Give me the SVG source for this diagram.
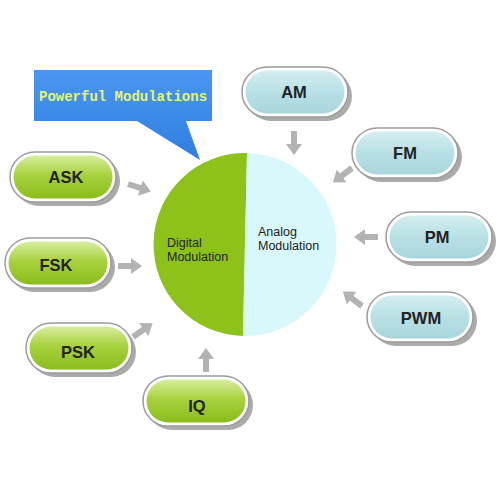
<svg xmlns="http://www.w3.org/2000/svg" width="500" height="500" viewBox="0 0 500 500">
<defs>
<linearGradient id="gg" x1="0" y1="0" x2="0" y2="1">
<stop offset="0" stop-color="#d9eea0"/><stop offset="0.45" stop-color="#a8d23e"/><stop offset="1" stop-color="#8abd1c"/>
</linearGradient>
<linearGradient id="bg" x1="0" y1="0" x2="0" y2="1">
<stop offset="0" stop-color="#d4eef1"/><stop offset="0.5" stop-color="#b8e0e5"/><stop offset="1" stop-color="#a9d6dc"/>
</linearGradient>
<linearGradient id="cg" x1="0" y1="0" x2="0" y2="1">
<stop offset="0" stop-color="#4a97f0"/><stop offset="1" stop-color="#2f7fe0"/>
</linearGradient>
<path id="arr" d="M0,-3 L13,-3 L13,-8 L24,0 L13,8 L13,3 L0,3 Z"/>
</defs>
<style>
.sh{fill:#8f8f8f;opacity:0.75}
.rim{fill:#ffffff;stroke:#9c9c9c;stroke-width:1.5}
.lbl{font-family:"Liberation Sans",Arial,sans-serif;font-weight:bold;font-size:16.5px;fill:#222;text-anchor:middle}
.clbl{font-family:"Liberation Sans",Arial,sans-serif;font-size:12.5px;fill:#222}
.ar{fill:#b3b3b3}
</style>
<rect width="500" height="500" fill="#ffffff"/>

<g id="callout">
<path d="M34,70 L212,70 L212,121 L186,121 L200,160 L137,121 L34,121 Z" fill="url(#cg)"/>
<text x="39" y="101" font-family="Liberation Mono,monospace" font-weight="bold" font-size="14" fill="#e4f66e">Powerful Modulations</text>
</g>

<g id="center">
<path d="M247,153 L243,336 A91,91 0 0 1 247,153 Z" fill="#8cc21a"/>
<path d="M247,153 A91,91 0 0 1 243,336 Z" fill="#d9f8fb"/>
<text class="clbl" x="167" y="247">Digital</text>
<text class="clbl" x="167" y="261">Modulation</text>
<text class="clbl" x="258" y="236">Analog</text>
<text class="clbl" x="258" y="250">Modulation</text>
</g>

<g id="connectors">
<use href="#arr" class="ar" transform="translate(294,131) rotate(90)"/>
<use href="#arr" class="ar" transform="translate(352,168) rotate(143)"/>
<use href="#arr" class="ar" transform="translate(378,237) rotate(180)"/>
<use href="#arr" class="ar" transform="translate(362,306) rotate(-143)"/>
<use href="#arr" class="ar" transform="translate(128,184) rotate(18)"/>
<use href="#arr" class="ar" transform="translate(118,266)"/>
<use href="#arr" class="ar" transform="translate(133,337) rotate(-35)"/>
<use href="#arr" class="ar" transform="translate(206,372) rotate(-90)"/>
</g>

<g id="AM">
<rect class="sh" x="246" y="71" width="106" height="50" rx="25"/>
<rect class="rim" x="242" y="67" width="106" height="50" rx="25"/>
<rect x="245.5" y="70.5" width="99" height="43" rx="21.5" fill="url(#bg)"/>
<text class="lbl" x="294" y="98">AM</text>
</g>
<g id="FM">
<rect class="sh" x="356" y="132" width="106" height="50" rx="25"/>
<rect class="rim" x="352" y="128" width="106" height="50" rx="25"/>
<rect x="355.5" y="131.5" width="99" height="43" rx="21.5" fill="url(#bg)"/>
<text class="lbl" x="405" y="159">FM</text>
</g>
<g id="PM">
<rect class="sh" x="390" y="216" width="106" height="50" rx="25"/>
<rect class="rim" x="386" y="212" width="106" height="50" rx="25"/>
<rect x="389.5" y="215.5" width="99" height="43" rx="21.5" fill="url(#bg)"/>
<text class="lbl" x="437" y="243">PM</text>
</g>
<g id="PWM">
<rect class="sh" x="371" y="296" width="106" height="50" rx="25"/>
<rect class="rim" x="367" y="292" width="106" height="50" rx="25"/>
<rect x="370.5" y="295.5" width="99" height="43" rx="21.5" fill="url(#bg)"/>
<text class="lbl" x="421" y="324">PWM</text>
</g>
<g id="ASK">
<rect class="sh" x="14" y="156" width="106" height="50" rx="25"/>
<rect class="rim" x="10" y="152" width="106" height="50" rx="25"/>
<rect x="13.5" y="155.5" width="99" height="43" rx="21.5" fill="url(#gg)"/>
<text class="lbl" x="66" y="183">ASK</text>
</g>
<g id="FSK">
<rect class="sh" x="9" y="242" width="106" height="50" rx="25"/>
<rect class="rim" x="5" y="238" width="106" height="50" rx="25"/>
<rect x="8.5" y="241.5" width="99" height="43" rx="21.5" fill="url(#gg)"/>
<text class="lbl" x="56" y="271">FSK</text>
</g>
<g id="PSK">
<rect class="sh" x="30" y="327" width="106" height="50" rx="25"/>
<rect class="rim" x="26" y="323" width="106" height="50" rx="25"/>
<rect x="29.5" y="326.5" width="99" height="43" rx="21.5" fill="url(#gg)"/>
<text class="lbl" x="78" y="358">PSK</text>
</g>
<g id="IQ">
<rect class="sh" x="147" y="380" width="106" height="50" rx="25"/>
<rect class="rim" x="143" y="376" width="106" height="50" rx="25"/>
<rect x="146.5" y="379.5" width="99" height="43" rx="21.5" fill="url(#gg)"/>
<text class="lbl" x="197" y="412">IQ</text>
</g>
</svg>
